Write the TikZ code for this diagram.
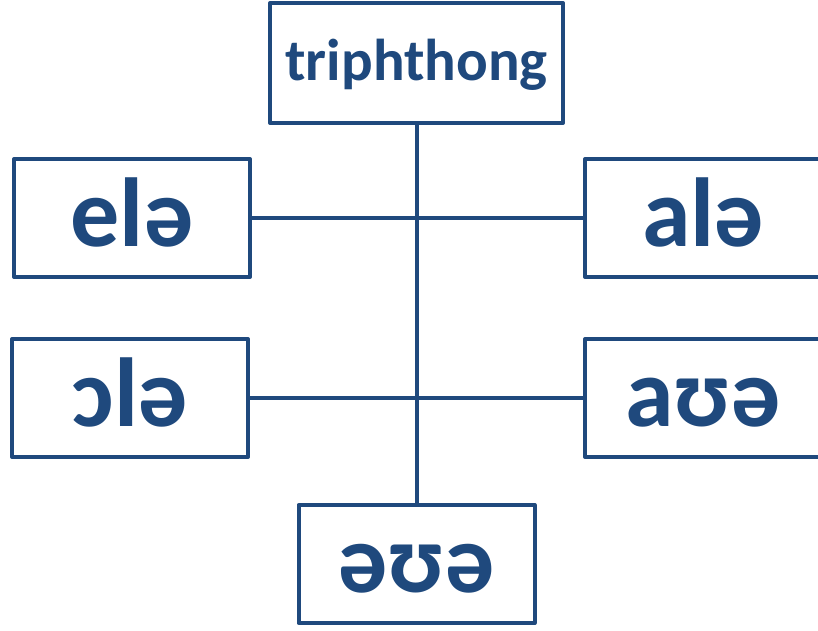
\documentclass[tikz,border=0pt]{standalone}
\usepackage{fontspec}
\setmainfont{Carlito}
\definecolor{boxblue}{HTML}{1F497D}
\tikzset{
  box/.style={draw=boxblue, line width=4pt, line join=round, rectangle, inner sep=0pt,
    text=boxblue, font=\bfseries\fontsize{98}{100}\selectfont,
    minimum width=236pt, minimum height=118pt, text height=62pt, text depth=6pt},
  topbox/.style={box, font=\bfseries\fontsize{59}{62}\selectfont,
    minimum width=293pt, minimum height=120pt, text height=39pt, text depth=4pt},
  link/.style={draw=boxblue, line width=4pt}
}
\begin{document}
\begin{tikzpicture}[x=1pt,y=-1pt]
\clip (0,0) rectangle (818,630);
\useasboundingbox (0,0) rectangle (818,630);
\node[topbox] (top) at (416.5,63) {triphthong};
\node[box] (l1) at (132,218) {elə};
\node[box] (r1) at (703,218) {alə};
\node[box] (l2) at (130,398) {ɔlə};
\node[box] (r2) at (703,398) {aʊə};
\node[box] (bot) at (416.5,564) {əʊə};
\draw[link] (top.south) -- (bot.north);
\draw[link] (l1.east) -- (r1.west);
\draw[link] (l2.east) -- (r2.west);
\end{tikzpicture}
\end{document}
